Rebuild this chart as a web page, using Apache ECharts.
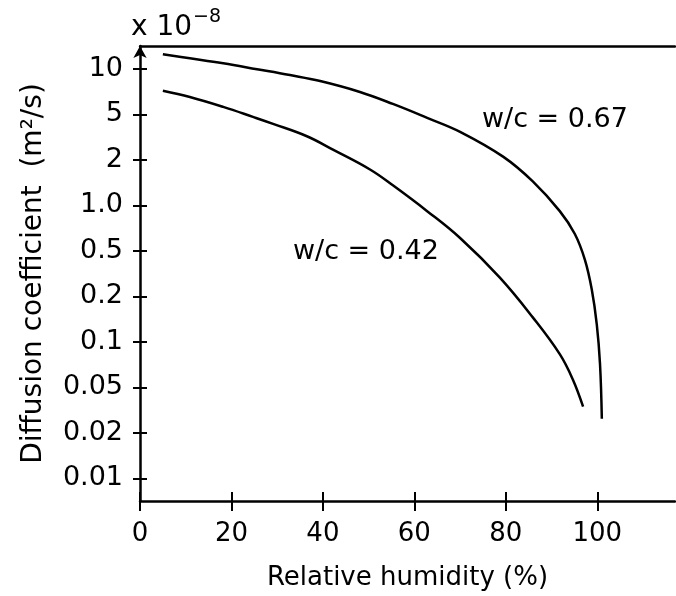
<!DOCTYPE html>
<html>
<head>
<meta charset="utf-8">
<script src="https://cdn.jsdelivr.net/npm/echarts@6/dist/echarts.min.js"></script>
<style>
  html, body { margin: 0; padding: 0; background: #fff; }
  #chart { width: 676px; height: 596px; }
</style>
</head>
<body>
<div id="chart"></div>
<script>
// values, D in units of 1e-8 m2/s
const rh067 = [5.0, 10.9, 18.2, 25.6, 32.8, 39.4, 48.1, 55.3, 62.8, 70.0, 79.4, 85.9, 91.8, 95.1, 97.3, 98.8, 99.9, 100.6, 101.0]
const d067 = [12.46, 11.73, 10.87, 9.93, 9.08, 8.29, 7.02, 5.85, 4.65, 3.51, 2.13, 1.438, 0.914, 0.645, 0.416, 0.229, 0.130, 0.0712, 0.0265]
const rh042 = [5.0, 10.9, 18.2, 24.7, 29.1, 36.5, 42.2, 50.3, 55.3, 62.8, 70.0, 78.7, 85.9, 91.8, 94.7, 96.9]
const d042 = [7.15, 6.50, 5.59, 4.74, 4.12, 3.21, 2.45, 1.724, 1.354, 0.914, 0.607, 0.291, 0.145, 0.0828, 0.0559, 0.0338]

const xTicks = [0, 20, 40, 60, 80, 100]
const yTicks = [0.01, 0.02, 0.05, 0.1, 0.2, 0.5, 1, 2, 5, 10]
const yTickLabels = ['0.01', '0.02', '0.05', '0.1', '0.2', '0.5', '1.0', '2', '5', '10']
const seriesNames = ['w/c = 0.67', 'w/c = 0.42']

const FONT = 'DejaVu Sans'

// the y axis puts its ticks evenly apart, so map a value to its tick slot
// (log interpolation between neighbouring ticks)
function toSlot(v) {
  let i = 0
  while (i < yTicks.length - 2 && v >= yTicks[i + 1]) i++
  return i + Math.log(v / yTicks[i]) / Math.log(yTicks[i + 1] / yTicks[i])
}
function pairs(xs, ys) {
  return xs.map((x, i) => [x, toSlot(ys[i])])
}
const slots = yTicks.map((t, i) => i)

const chart = echarts.init(document.getElementById('chart'))
const lineStyle = { color: '#000', width: 2.5 }

chart.setOption({
  animation: false,
  grid: { left: 140, right: 1, top: 46, bottom: 92, containLabel: false },
  xAxis: [{
    type: 'value', position: 'bottom', min: 0, max: 117,
    name: 'Relative humidity (%)', nameLocation: 'middle', nameGap: 64,
    nameTextStyle: { color: '#000', fontFamily: FONT, fontSize: 26 },
    axisLine: { show: true, onZero: false, lineStyle: { color: '#000', width: 2.5 } },
    axisTick: { show: true, length: 10, customValues: xTicks, lineStyle: { color: '#000', width: 2 } },
    axisLabel: { margin: 20, customValues: xTicks, color: '#000', fontFamily: FONT, fontSize: 26 },
    splitLine: { show: false }
  }, {
    type: 'value', position: 'bottom', min: 0, max: 117,
    axisLine: { show: false, onZero: false },
    axisTick: { show: true, inside: true, length: 9, customValues: xTicks, lineStyle: { color: '#000', width: 2 } },
    axisLabel: { show: false },
    splitLine: { show: false }
  }, {
    type: 'value', position: 'top', min: 0, max: 117,
    axisLine: { show: true, onZero: false, lineStyle: { color: '#000', width: 2.5 } },
    axisTick: { show: false },
    axisLabel: { show: false },
    splitLine: { show: false }
  }],
  yAxis: [{
    type: 'value', position: 'left', min: -0.5, max: 9.5,
    name: 'Diffusion coefficient  (m²/s)', nameLocation: 'middle', nameGap: 92,
    nameTextStyle: { color: '#000', fontFamily: FONT, fontSize: 28 },
    axisLine: { show: true, onZero: false, symbol: ['none', 'arrow'], symbolSize: [10, 12], lineStyle: { color: '#000', width: 2.5 } },
    axisTick: { show: true, length: 7, customValues: slots, lineStyle: { color: '#000', width: 2 } },
    axisLabel: {
      margin: 17, customValues: slots, color: '#000', fontFamily: FONT, fontSize: 27,
      formatter: v => yTickLabels[Math.round(v)]
    },
    splitLine: { show: false }
  }, {
    type: 'value', position: 'left', min: -0.5, max: 9.5,
    axisLine: { show: false, onZero: false },
    axisTick: { show: true, inside: true, length: 7, customValues: slots, lineStyle: { color: '#000', width: 2 } },
    axisLabel: { show: false },
    splitLine: { show: false }
  }],
  series: [{
    name: seriesNames[0], type: 'line', smooth: 0.4, showSymbol: false,
    lineStyle: lineStyle, data: pairs(rh067, d067)
  }, {
    name: seriesNames[1], type: 'line', smooth: 0.4, showSymbol: false,
    lineStyle: lineStyle, data: pairs(rh042, d042)
  }],
  graphic: [
    { type: 'text', x: 131, y: 28, style: { text: 'x 10', fill: '#000', font: '28px "' + FONT + '"', align: 'left', verticalAlign: 'middle' } },
    { type: 'text', x: 193, y: 17, style: { text: '−8', fill: '#000', font: '19px "' + FONT + '"', align: 'left', verticalAlign: 'middle' } },
    { type: 'text', x: 482, y: 120, style: { text: seriesNames[0], fill: '#000', font: '27px "' + FONT + '"', align: 'left', verticalAlign: 'middle' } },
    { type: 'text', x: 293, y: 252, style: { text: seriesNames[1], fill: '#000', font: '27px "' + FONT + '"', align: 'left', verticalAlign: 'middle' } }
  ]
})
</script>
</body>
</html>
